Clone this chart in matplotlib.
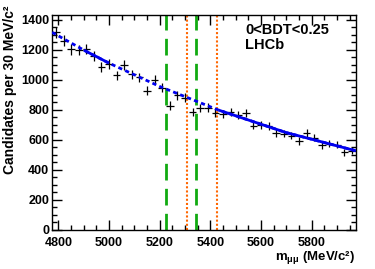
import matplotlib
matplotlib.use("Agg")
import matplotlib.pyplot as plt
import numpy as np
from matplotlib.ticker import MultipleLocator

plt.rcParams["font.family"] = ["Liberation Sans", "DejaVu Sans"]
plt.rcParams["font.weight"] = "bold"
plt.rcParams["mathtext.fontset"] = "custom"
plt.rcParams["mathtext.rm"] = "Liberation Sans:bold"
plt.rcParams["mathtext.it"] = "Liberation Sans:bold"
plt.rcParams["mathtext.default"] = "rm"

# Histogram: 40 bins of 30 MeV/c^2
mass_lo, mass_hi = 4775, 5975
bin_width = 30
counts = [1315, 1260, 1202, 1196, 1205, 1160, 1085, 1103, 1028, 1097,
          1035, 1015, 926, 1000, 946, 828, 895, 880, 786, 811,
          814, 778, 773, 784, 766, 778, 695, 697, 694, 645,
          642, 628, 592, 647, 615, 565, 574, 567, 517, 526]

# Background fit
fit_mass = [4775, 4900, 5000, 5200, 5432, 5700, 5975]
fit_vals = [1315, 1197, 1110, 955, 798, 648, 527]
sideband_lo = (4900, 5000)
sideband_hi = (5432, 5975)

# Signal windows
bd_window = [5224.6, 5344.6]
bs_window = [5306.3, 5426.3]

centers = mass_lo + bin_width / 2 + bin_width * np.arange(len(counts))
counts = np.array(counts)

fig = plt.figure(figsize=(3.75, 2.69), dpi=100)
ax = fig.add_axes([0.139, 0.145, 0.810, 0.799])

ax.errorbar(centers, counts, yerr=np.sqrt(counts), xerr=bin_width / 2,
            fmt="none", ecolor="black", elinewidth=0.9, capsize=0, zorder=3)

# fit curve: solid in the sidebands, dashed elsewhere
fm = np.array(fit_mass)
fv = np.array(fit_vals)
ax.plot(fm, fv, color="#0000ee", lw=2, linestyle=(0, (1.5, 1.2)), zorder=4)
for lo, hi in (sideband_lo, sideband_hi):
    sel = (fm >= lo) & (fm <= hi)
    ax.plot(fm[sel], fv[sel], color="#0000ee", lw=2, solid_capstyle="butt", zorder=5)

for m in bd_window:
    ax.axvline(m, color="#11aa11", lw=2, linestyle=(0, (6, 3)), zorder=2)
for m in bs_window:
    ax.axvline(m, color="#ff6600", lw=1.5, linestyle=(0, (1, 1)), zorder=2)

ax.set_xlim(mass_lo, mass_hi)
ax.set_ylim(0, 1430)
ax.xaxis.set_major_locator(MultipleLocator(200))
ax.xaxis.set_minor_locator(MultipleLocator(50))
ax.yaxis.set_major_locator(MultipleLocator(200))
ax.yaxis.set_minor_locator(MultipleLocator(50))
ax.tick_params(which="both", direction="in", top=True, right=True,
               labelsize=9, width=1)
ax.tick_params(which="major", length=7)
ax.tick_params(which="minor", length=3.5)
ax.tick_params(axis="x", pad=5)
ax.tick_params(axis="y", pad=2)
for lbl in ax.get_xticklabels() + ax.get_yticklabels():
    lbl.set_fontweight("bold")
for sp in ax.spines.values():
    sp.set_linewidth(1)

ax.text(0.635, 0.93, "0<BDT<0.25", transform=ax.transAxes, fontsize=10.5,
        fontweight="bold", va="center", ha="left")
ax.text(0.635, 0.86, "LHCb", transform=ax.transAxes, fontsize=10.5,
        fontweight="bold", va="center", ha="left")

fig.text(0.027, 0.98, "Candidates per 30 MeV/c²", rotation=90,
         ha="center", va="top", fontsize=10, fontweight="bold")
fig.text(0.948, 0.033, "m$_{\\mu\\mu}$ (MeV/c²)", ha="right", va="baseline",
         fontsize=9.5, fontweight="bold")

fig.savefig("out.png", dpi=100)
